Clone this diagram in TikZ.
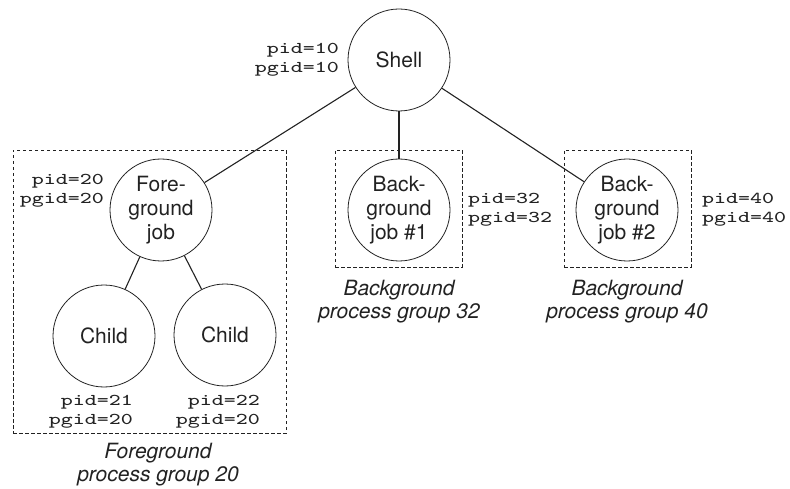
\documentclass[tikz,border=0pt]{standalone}
\usepackage{fontspec}
\setmainfont{TeX Gyre Heros}
\newfontfamily\idfont[Extension=.otf,FakeStretch=1.37]{lmmono8-regular}
\usetikzlibrary{positioning}
\definecolor{ink}{HTML}{222222}
\tikzset{
  every node/.style={text=ink},
  proc/.style={draw=ink,line width=0.8pt,circle,minimum size=102pt,inner sep=0pt,align=center,font=\fontsize{21}{24}\selectfont},
  group/.style={draw=ink,line width=0.9pt,dash pattern=on 3.5pt off 2.5pt,inner sep=0pt},
  ids/.style={font=\idfont\fontsize{16.5}{19}\selectfont,inner sep=0pt},
  caption/.style={font=\itshape\fontsize{21}{23}\selectfont,align=center,inner sep=0pt},
  link/.style={draw=ink,line width=1.1pt},
}
\begin{document}
\begin{tikzpicture}[x=1pt,y=-1pt]
\useasboundingbox (0,0) rectangle (790,489);
\node[group,minimum width=273pt,minimum height=283pt] (fggroup) at (149.5,291.5) {};
\node[group,minimum width=127pt,minimum height=117pt] (bggroup1) at (398.5,208.5) {};
\node[group,minimum width=127pt,minimum height=117pt] (bggroup2) at (627.5,208.5) {};
\node[proc] (shell) at (399,60) {Shell};
\node[proc] (fg) at (161,210) {Fore-\\ground\\job};
\node[proc] (bg1) at (399,210) {Back-\\ground\\job \#1};
\node[proc] (bg2) at (627,210) {Back-\\ground\\job \#2};
\node[proc] (child1) at (104,336) {Child};
\node[proc] (child2) at (225,335) {Child};
\draw[link] (shell) -- (fg);
\draw[link] (shell) -- (bg1);
\draw[link] (shell) -- (bg2);
\draw[link] (fg) -- (child1);
\draw[link] (fg) -- (child2);
\node[ids,align=right,anchor=east] (shellid) at (339,59.5) {pid=10\\pgid=10};
\node[ids,align=right,anchor=east] (fgid) at (104,191) {pid=20\\pgid=20};
\node[ids,align=left,anchor=west] (bg1id) at (468,210) {pid=32\\pgid=32};
\node[ids,align=left,anchor=west] (bg2id) at (702,210) {pid=40\\pgid=40};
\node[ids,align=right,anchor=east] (child1id) at (133,411.5) {pid=21\\pgid=20};
\node[ids,align=right,anchor=east] (child2id) at (260,411.5) {pid=22\\pgid=20};
\node[caption] (fgcap) at (158,465) {Foreground\\process group 20};
\node[caption] (bgcap1) at (399,302) {Background\\process group 32};
\node[caption] (bgcap2) at (627,302) {Background\\process group 40};
\end{tikzpicture}
\end{document}
